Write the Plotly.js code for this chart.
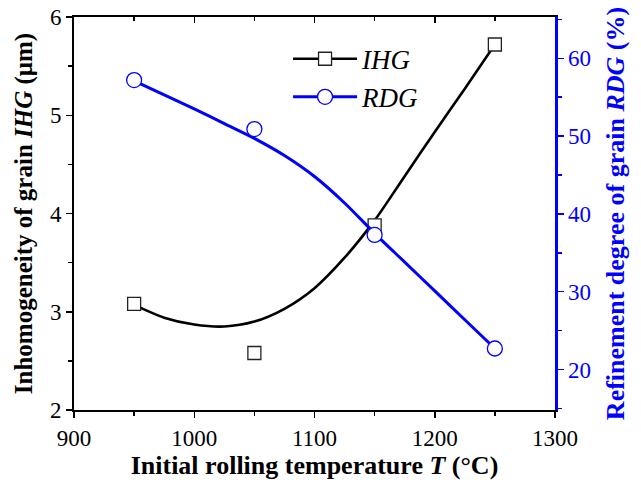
<!DOCTYPE html>
<html>
<head>
<meta charset="utf-8">
<script src="https://cdn.plot.ly/plotly-3.0.1.min.js"></script>
<style>html,body{margin:0;padding:0;background:#fff}#chart{width:641px;height:480px}</style>
</head>
<body>
<div id="chart"></div>
<script>
// Measured points
const temps = [950, 1050, 1150, 1250];
const ihgValues = [3.08, 2.58, 3.88, 5.72];
const rdgValues = [57.2, 50.9, 37.3, 22.7];

// Smoothed curves
const fitTemps = [950, 975, 1000, 1025, 1050, 1075, 1100, 1125, 1150, 1175, 1200, 1225, 1250];
const ihgFit = [3.07, 2.94, 2.87, 2.85, 2.90, 3.03, 3.24, 3.55, 3.93, 4.38, 4.83, 5.27, 5.72];
const rdgFit = [57.1, 55.3, 53.5, 51.6, 49.7, 47.5, 44.8, 41.4, 37.5, 33.8, 30.1, 26.4, 22.7];

const legendNames = ['<i>IHG</i>', '<i>RDG</i>'];

const BLUE = 'rgb(0,0,255)';
const FONT = 'Liberation Serif, Times New Roman, serif';

const traces = [
  {x: fitTemps, y: ihgFit, mode: 'lines', line: {color: 'black', width: 2.6, shape: 'spline', smoothing: 0.8},
   showlegend: false, hoverinfo: 'skip', xaxis: 'x', yaxis: 'y'},
  {x: temps, y: ihgValues, mode: 'markers', showlegend: false,
   marker: {symbol: 'square', size: 13, color: 'white', line: {color: '#222', width: 1.3}}, xaxis: 'x', yaxis: 'y'},
  {x: fitTemps, y: rdgFit, mode: 'lines', line: {color: BLUE, width: 3, shape: 'spline', smoothing: 0.8},
   showlegend: false, hoverinfo: 'skip', xaxis: 'x', yaxis: 'y2'},
  {x: temps, y: rdgValues, mode: 'markers', showlegend: false,
   marker: {symbol: 'circle', size: 15, color: 'white', line: {color: BLUE, width: 1.3}}, xaxis: 'x', yaxis: 'y2'},
  // legend entries
  {x: [null], y: [null], mode: 'lines+markers', name: legendNames[0], line: {color: 'black', width: 2.6},
   marker: {symbol: 'square', size: 13, color: 'white', line: {color: '#222', width: 1.3}}, xaxis: 'x', yaxis: 'y'},
  {x: [null], y: [null], mode: 'lines+markers', name: legendNames[1], line: {color: BLUE, width: 3},
   marker: {symbol: 'circle', size: 15, color: 'white', line: {color: BLUE, width: 1.3}}, xaxis: 'x', yaxis: 'y2'},
  // top axis carrier
  {x: [null], y: [null], mode: 'markers', showlegend: false, hoverinfo: 'skip', xaxis: 'x2', yaxis: 'y'}
];

const layout = {
  width: 641, height: 480,
  margin: {l: 74, r: 86, t: 17, b: 70},
  paper_bgcolor: 'white', plot_bgcolor: 'white',
  font: {family: FONT, size: 22, color: 'black'},
  showlegend: true,
  legend: {x: 0.445, y: 0.955, xanchor: 'left', yanchor: 'top', bgcolor: 'rgba(0,0,0,0)',
           font: {family: FONT, size: 27, color: 'black'}, itemwidth: 64, tracegroupgap: 0},
  xaxis: {
    range: [900, 1300], tick0: 900, dtick: 100, ticks: 'outside', ticklen: 6, tickwidth: 1.5,
    tickcolor: 'black', showline: true, linecolor: 'black', linewidth: 2, showgrid: false, zeroline: false,
    minor: {dtick: 50, ticks: 'outside', ticklen: 4, tickwidth: 1.5, tickcolor: 'black', showgrid: false},
    tickfont: {family: FONT, size: 23, color: 'black'},
    title: {text: '<b>Initial rolling temperature <i>T</i> (°C)</b>', font: {family: FONT, size: 26, color: 'black'}, standoff: 6},
    anchor: 'y'
  },
  xaxis2: {
    overlaying: 'x', side: 'top', anchor: 'y', range: [900, 1300], tick0: 900, dtick: 100,
    ticks: 'inside', ticklen: 6, tickwidth: 1.5, tickcolor: 'black', showticklabels: false,
    showline: true, linecolor: 'black', linewidth: 2, showgrid: false, zeroline: false,
    minor: {dtick: 50, ticks: 'inside', ticklen: 4, tickwidth: 1.5, tickcolor: 'black', showgrid: false}
  },
  yaxis: {
    range: [2, 6], tick0: 2, dtick: 1, ticks: 'outside', ticklen: 6, tickwidth: 1.5, tickcolor: 'black',
    showline: true, linecolor: 'black', linewidth: 2, showgrid: false, zeroline: false,
    minor: {dtick: 0.5, ticks: 'outside', ticklen: 4, tickwidth: 1.5, tickcolor: 'black', showgrid: false},
    tickfont: {family: FONT, size: 23, color: 'black'},
    title: {text: '<b>Inhomogeneity of grain <i>IHG</i> (μm)</b>', font: {family: FONT, size: 25, color: 'black'}, standoff: 10}
  },
  yaxis2: {
    overlaying: 'y', side: 'right', anchor: 'x', range: [14.8, 65.3], tick0: 0, dtick: 10,
    ticks: 'outside', ticklen: 6, tickwidth: 1.5, tickcolor: BLUE,
    showline: true, linecolor: BLUE, linewidth: 2.5, showgrid: false, zeroline: false,
    minor: {dtick: 5, ticks: 'outside', ticklen: 4, tickwidth: 1.5, tickcolor: BLUE, showgrid: false},
    tickfont: {family: FONT, size: 23, color: BLUE},
    title: {text: '<b>Refinement degree of grain <i>RDG</i> (%)</b>', font: {family: FONT, size: 26, color: BLUE}, standoff: 16}
  }
};

Plotly.newPlot('chart', traces, layout, {staticPlot: true, displayModeBar: false});
</script>
</body>
</html>
